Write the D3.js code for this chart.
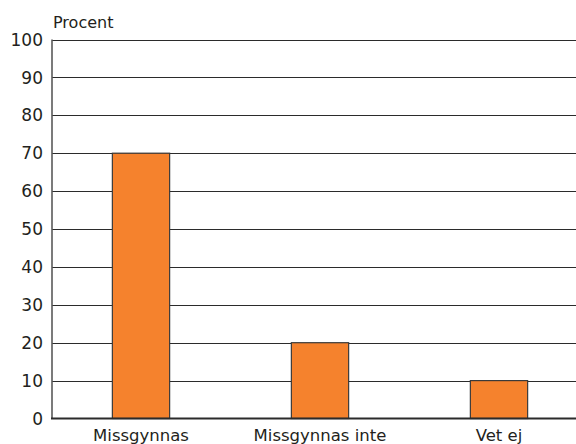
<!DOCTYPE html>
<html>
<head>
<meta charset="utf-8">
<script src="https://cdn.jsdelivr.net/npm/d3@7"></script>
<style>
  html, body { margin: 0; padding: 0; background: #fff; }
  svg { display: block; }
  text { font-family: "DejaVu Sans", sans-serif; fill: #231f20; }
</style>
</head>
<body>
<svg id="chart" width="576" height="444"></svg>
<script>
const categories = ["Missgynnas", "Missgynnas inte", "Vet ej"];
const values = [70, 20, 10];
const yTicks = [0, 10, 20, 30, 40, 50, 60, 70, 80, 90, 100];
const yTitle = "Procent";

const svg = d3.select("#chart");
const plotLeft = 52, plotRight = 576, plotTop = 39.5, plotBottom = 418.5;

const y = d3.scaleLinear().domain([0, 100]).range([plotBottom, plotTop]);
const x = d3.scaleBand().domain(categories).range([51.5, 588.5])
  .paddingInner(0.68).paddingOuter(0.34);

// gridlines
svg.append("g").selectAll("line").data(yTicks.filter(d => d > 0)).join("line")
  .attr("x1", plotLeft).attr("x2", plotRight)
  .attr("y1", d => Math.round(y(d)) + 0.5).attr("y2", d => Math.round(y(d)) + 0.5)
  .attr("stroke", "#2b2b2b").attr("stroke-width", 1.2);

// bars
svg.append("g").selectAll("rect").data(values).join("rect")
  .attr("x", (d, i) => x(categories[i]))
  .attr("width", x.bandwidth())
  .attr("y", d => y(d))
  .attr("height", d => y(0) - y(d))
  .attr("fill", "#f5822d")
  .attr("stroke", "#3a3a3a").attr("stroke-width", 1.2);

// y axis line
svg.append("line").attr("x1", plotLeft).attr("x2", plotLeft)
  .attr("y1", plotTop).attr("y2", plotBottom)
  .attr("stroke", "#5a5a5a").attr("stroke-width", 1.6);

// x axis line
svg.append("line").attr("x1", plotLeft - 1).attr("x2", plotRight)
  .attr("y1", plotBottom).attr("y2", plotBottom)
  .attr("stroke", "#2b2b2b").attr("stroke-width", 2);

// y tick labels
svg.append("g").selectAll("text").data(yTicks).join("text")
  .attr("x", 43).attr("y", d => y(d))
  .attr("dy", "0.36em")
  .attr("text-anchor", "end")
  .attr("font-size", 17)
  .text(d => d);

// x labels
svg.append("g").selectAll("text").data(categories).join("text")
  .attr("x", d => x(d) + x.bandwidth() / 2)
  .attr("y", 441)
  .attr("text-anchor", "middle")
  .attr("font-size", 16.5)
  .text(d => d);

// y title
svg.append("text").attr("x", 53).attr("y", 28)
  .attr("font-size", 16)
  .text(yTitle);
</script>
</body>
</html>
